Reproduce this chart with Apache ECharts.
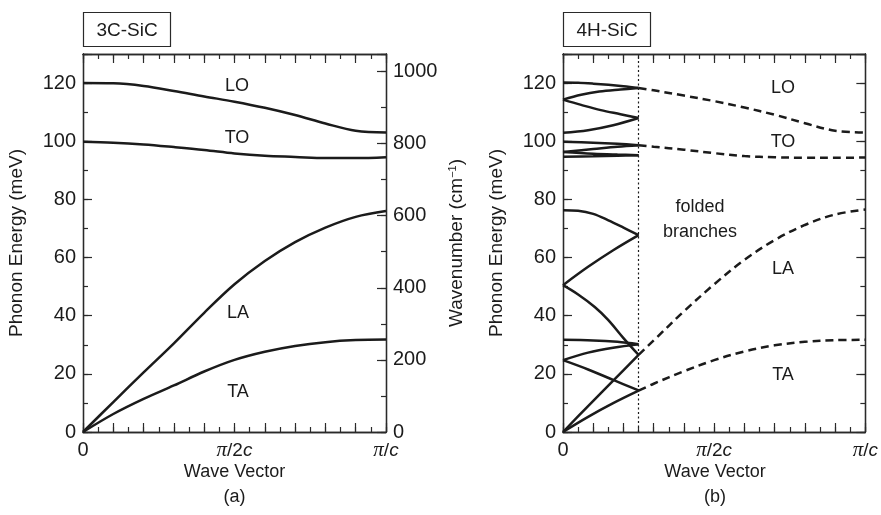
<!DOCTYPE html>
<html>
<head>
<meta charset="utf-8">
<script src="https://cdn.jsdelivr.net/npm/echarts@6/dist/echarts.min.js"></script>
<style>
  html, body { margin: 0; padding: 0; background: #fff; }
  #chart { width: 881px; height: 515px; }
</style>
</head>
<body>
<div id="chart"></div>
<script>
// Phonon dispersion along the c axis. x: wave vector in units of π/c, y: energy in meV.

// ---- 3C-SiC branches ----
const lo3C = [[0,120],[0.1,119.9],[0.2,119],[0.3,117.3],[0.4,115.4],[0.5,113.6],[0.6,111.5],[0.7,109],[0.8,106.1],[0.9,103.6],[1,103]];
const to3C = [[0,99.8],[0.1,99.5],[0.2,98.9],[0.3,98],[0.4,97],[0.5,95.8],[0.6,95],[0.7,94.6],[0.8,94.2],[0.9,94.2],[1,94.5]];
const la3C = [[0,0],[0.1,10.3],[0.2,20.5],[0.3,30.5],[0.4,41],[0.5,50.8],[0.6,58.8],[0.7,65.3],[0.8,70.3],[0.9,74],[1,76]];
const ta3C = [[0,0],[0.1,6.2],[0.2,11.4],[0.3,16],[0.4,20.8],[0.5,24.8],[0.6,27.6],[0.7,29.6],[0.8,30.9],[0.9,31.6],[1,31.8]];

// ---- 4H-SiC: unfolded branches beyond the zone edge (dashed) ----
const zoneEdge = 0.25;
const lo4H = [[0.25,118.3],[0.3,117.5],[0.4,115.7],[0.5,113.8],[0.6,111.6],[0.7,109.1],[0.8,106.2],[0.9,103.6],[1,103]];
const to4H = [[0.25,98.6],[0.3,98.1],[0.4,97.1],[0.5,95.9],[0.6,94.9],[0.7,94.5],[0.8,94.3],[0.9,94.3],[1,94.4]];
const la4H = [[0.25,26.5],[0.3,31.5],[0.4,41.5],[0.5,50.8],[0.6,59.2],[0.7,66],[0.8,71.2],[0.9,74.8],[1,76.5]];
const ta4H = [[0.25,14.2],[0.3,16.6],[0.4,20.9],[0.5,24.7],[0.6,27.7],[0.7,29.8],[0.8,31],[0.9,31.6],[1,31.7]];

// ---- 4H-SiC: folded branches inside the small zone (solid) ----
const foldLO1 = [[0,120.2],[0.05,120.1],[0.1,119.8],[0.15,119.4],[0.2,118.9],[0.25,118.3]];
const foldLO2 = [[0,114.3],[0.06,116],[0.12,117.1],[0.19,117.8],[0.25,118.3]];
const foldLO3 = [[0,114.3],[0.06,112.5],[0.125,110.7],[0.19,109.3],[0.25,108]];
const foldLO4 = [[0,102.9],[0.083,103.8],[0.166,105.5],[0.25,108]];
const foldTO1 = [[0,99.8],[0.1,99.5],[0.18,99.1],[0.25,98.6]];
const foldTO2 = [[0,96.3],[0.1,97.3],[0.18,98.1],[0.25,98.6]];
const foldTO3 = [[0,96.3],[0.1,95.7],[0.18,95.4],[0.25,95.2]];
const foldTO4 = [[0,94.7],[0.1,94.8],[0.18,95],[0.25,95.2]];
const foldLA1 = [[0,0],[0.083,8.9],[0.166,17.7],[0.25,26.5]];
const foldLA2 = [[0,50.5],[0.05,47.3],[0.105,43],[0.15,38.5],[0.2,32.3],[0.25,26.5]];
const foldLA3 = [[0,50.5],[0.083,56.8],[0.166,62.5],[0.25,67.7]];
const foldLA4 = [[0,76.3],[0.05,76.1],[0.1,75],[0.15,72.8],[0.2,70.3],[0.25,67.7]];
const foldTA1 = [[0,0],[0.083,5.2],[0.166,9.9],[0.25,14.2]];
const foldTA2 = [[0,24.7],[0.083,21.5],[0.166,17.9],[0.25,14.3]];
const foldTA3 = [[0,24.7],[0.083,27.3],[0.166,29],[0.25,30.2]];
const foldTA4 = [[0,31.7],[0.1,31.5],[0.18,31],[0.25,30.2]];

// ---- axis ranges and tick labels ----
const energyMax = 130;                 // meV
const meVtoCm = 8.0655;                // 1 meV = 8.0655 cm^-1
const waveMax = energyMax * meVtoCm;
const xLabelsA = [[0, '{z|0}'], [0.5, '{p|π}/2{c|c}'], [1, '{p|π}/{c|c}']];
const xLabelsB = [[0, '{z|0}'], [0.25, '{p|π}/4{c|c}'], [0.5, '{p|π}/2{c|c}'], [1, '{p|π}/{c|c}']];
const energyTicks = [0, 20, 40, 60, 80, 100, 120];
const waveTicks = [0, 200, 400, 600, 800, 1000];

const INK = '#1b1b1b';
const AXIS = '#2a2a2a';
const FONT = "'Liberation Sans', Arial, Helvetica, sans-serif";
const FS = 18;       // text in the plot and axis titles
const TICK_FS = 20;  // numeric tick labels

const chart = echarts.init(document.getElementById('chart'), null, { renderer: 'canvas' });

const grids = [
  { left: 83, top: 54, width: 303, height: 378 },
  { left: 563, top: 54, width: 304, height: 378 }
];

const richPi = {
  p: { fontFamily: "'Liberation Serif', serif", fontStyle: 'italic', fontSize: 21, color: INK },
  c: { fontFamily: FONT, fontStyle: 'italic', fontSize: 19, color: INK },
  z: { fontFamily: FONT, fontSize: TICK_FS, color: INK }
};

function pickLabel(list, v) {
  for (const [val, txt] of list) if (Math.abs(val - v) < 1e-6) return txt;
  return '';
}

function xAxis(grid, position, interval, len, labels) {
  return {
    type: 'value', gridIndex: grid, position, min: 0, max: 1, interval,
    axisLine: { show: true, onZero: false, lineStyle: { color: AXIS, width: 1.3 } },
    axisTick: { show: true, inside: true, length: len, lineStyle: { color: AXIS, width: 1.2 } },
    axisLabel: labels ? {
      show: true, margin: 8, color: INK, fontFamily: FONT, fontSize: 19,
      formatter: v => pickLabel(labels, v), rich: richPi
    } : { show: false },
    splitLine: { show: false }
  };
}

function yAxis(grid, position, max, interval, len, labels) {
  return {
    type: 'value', gridIndex: grid, position, min: 0, max, interval,
    axisLine: { show: true, onZero: false, lineStyle: { color: AXIS, width: 1.3 } },
    axisTick: { show: true, inside: true, length: len, lineStyle: { color: AXIS, width: 1.2 } },
    axisLabel: labels ? {
      show: true, margin: 7, color: INK, fontFamily: FONT, fontSize: TICK_FS,
      formatter: v => (labels.some(t => Math.abs(t - v) < 1e-6) ? String(Math.round(v)) : '')
    } : { show: false },
    splitLine: { show: false }
  };
}

const xAxes = [
  xAxis(0, 'bottom', 0.1, 9, xLabelsA), xAxis(0, 'bottom', 0.05, 5, null),
  xAxis(0, 'top', 0.1, 9, null), xAxis(0, 'top', 0.05, 5, null),
  xAxis(1, 'bottom', 0.1, 9, xLabelsB), xAxis(1, 'bottom', 0.05, 5, null),
  xAxis(1, 'top', 0.1, 9, null), xAxis(1, 'top', 0.05, 5, null)
];

const yAxes = [
  yAxis(0, 'left', energyMax, 20, 9, energyTicks), yAxis(0, 'left', energyMax, 10, 5, null),
  yAxis(0, 'right', waveMax, 200, 9, waveTicks), yAxis(0, 'right', waveMax, 100, 5, null),
  yAxis(1, 'left', energyMax, 20, 9, energyTicks), yAxis(1, 'left', energyMax, 10, 5, null),
  yAxis(1, 'right', energyMax, 20, 9, null), yAxis(1, 'right', energyMax, 10, 5, null)
];

function curve(data, grid, dashed) {
  return {
    type: 'line', xAxisIndex: grid * 4, yAxisIndex: grid * 4, data,
    smooth: 0.35, showSymbol: false, symbol: 'none', silent: true, clip: false,
    lineStyle: { color: INK, width: 2.5, type: dashed ? [8, 5] : 'solid', cap: 'butt' }
  };
}

const series = [
  curve(lo3C, 0), curve(to3C, 0), curve(la3C, 0), curve(ta3C, 0),
  curve(lo4H, 1, true), curve(to4H, 1, true), curve(la4H, 1, true), curve(ta4H, 1, true),
  curve(foldLO1, 1), curve(foldLO2, 1), curve(foldLO3, 1), curve(foldLO4, 1),
  curve(foldTO1, 1), curve(foldTO2, 1), curve(foldTO3, 1), curve(foldTO4, 1),
  curve(foldLA1, 1), curve(foldLA2, 1), curve(foldLA3, 1), curve(foldLA4, 1),
  curve(foldTA1, 1), curve(foldTA2, 1), curve(foldTA3, 1), curve(foldTA4, 1)
];

// dotted zone-edge marker at π/4c
series[8].markLine = {
  silent: true, symbol: ['none', 'none'], label: { show: false },
  lineStyle: { color: INK, width: 1.2, type: [2, 2.5] },
  data: [{ xAxis: zoneEdge }]
};

function txt(x, y, text, extra) {
  return {
    type: 'text', x, y, silent: true,
    style: Object.assign({ text, fill: INK, font: `${FS}px ${FONT}`, align: 'center', verticalAlign: 'middle' }, extra || {})
  };
}

function titleBox(x, y, w, h, text) {
  return {
    type: 'group', silent: true,
    children: [
      { type: 'rect', shape: { x, y, width: w, height: h }, style: { fill: '#fff', stroke: AXIS, lineWidth: 1.2 } },
      txt(x + w / 2, y + h / 2 + 1, text, { font: `19px ${FONT}` })
    ]
  };
}

const graphic = [
  titleBox(83.5, 12.5, 87, 34, '3C-SiC'),
  titleBox(563.5, 12.5, 87, 34, '4H-SiC'),
  // branch names, panel (a)
  txt(237, 86, 'LO'), txt(237, 138, 'TO'), txt(238, 313, 'LA'), txt(238, 392, 'TA'),
  // branch names, panel (b)
  txt(783, 88, 'LO'), txt(783, 142, 'TO'), txt(783, 269, 'LA'), txt(783, 375, 'TA'),
  txt(700, 207, 'folded'), txt(700, 232, 'branches'),
  // axis titles
  txt(234.5, 472, 'Wave Vector'), txt(234.5, 497, '(a)'),
  txt(715, 472, 'Wave Vector'), txt(715, 497, '(b)'),
  Object.assign(txt(17, 243, 'Phonon Energy (meV)', { font: `19px ${FONT}` }), { rotation: Math.PI / 2 }),
  Object.assign(txt(497, 243, 'Phonon Energy (meV)', { font: `19px ${FONT}` }), { rotation: Math.PI / 2 }),
  {
    type: 'text', x: 457, y: 243, rotation: Math.PI / 2, silent: true,
    style: {
      text: 'Wavenumber (cm{s|−1})', fill: INK, font: `19px ${FONT}`,
      align: 'center', verticalAlign: 'middle',
      rich: { s: { fontSize: 11, fontFamily: FONT, fill: INK, verticalAlign: 'top', padding: [0, 0, 8, 0] } }
    }
  }
];

chart.setOption({
  animation: false,
  backgroundColor: '#ffffff',
  textStyle: { fontFamily: FONT },
  grid: grids,
  xAxis: xAxes,
  yAxis: yAxes,
  series,
  graphic
});
</script>
</body>
</html>
